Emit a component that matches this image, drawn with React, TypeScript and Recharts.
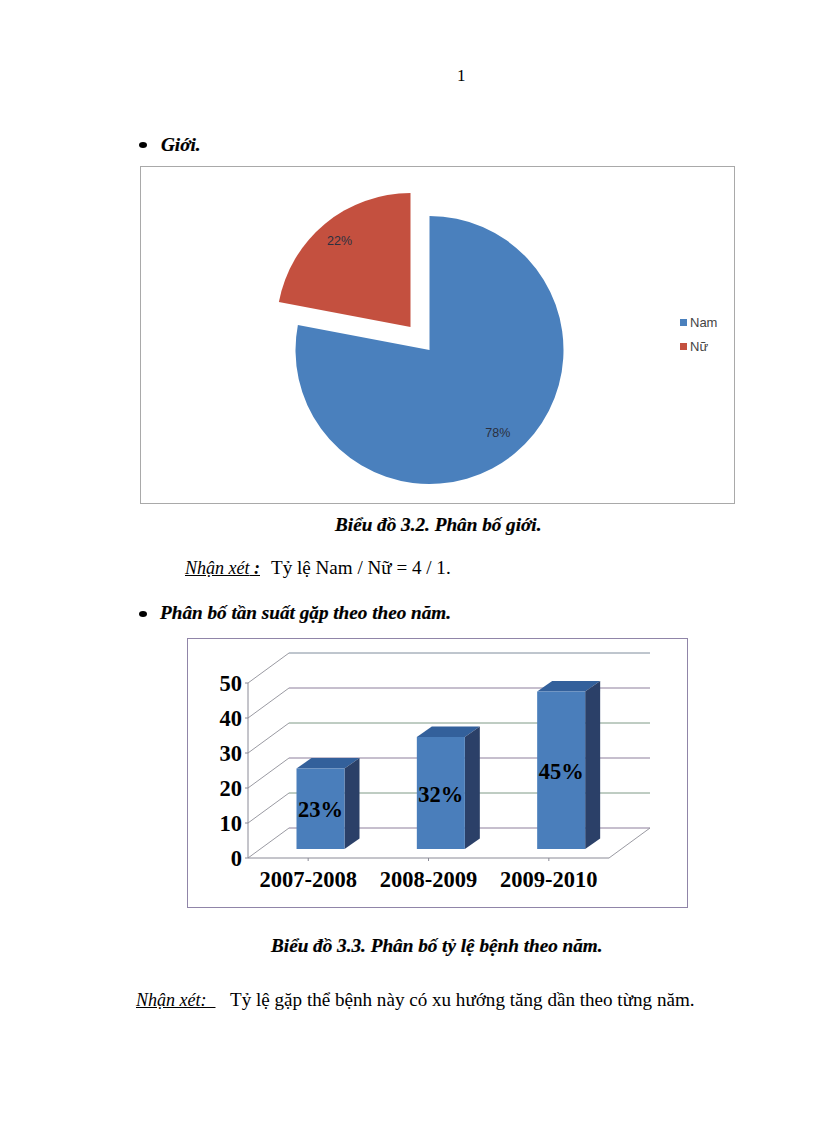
import React from "react";
import { PieChart, Pie, Cell, Legend, BarChart, Bar, XAxis, YAxis, CartesianGrid, LabelList } from "recharts";

const genderNames = ["Nam", "Nữ"];
const genderValues = [78, 22];
const genderColors = ["#4a80bd", "#c4503f"];

const yearCategories = ["2007-2008", "2008-2009", "2009-2010"];
const yearValues = [23, 32, 45];
const yTicks = [0, 10, 20, 30, 40, 50];

const namData = [{ name: genderNames[0], value: genderValues[0], fill: genderColors[0] }];
const nuData = [{ name: genderNames[1], value: genderValues[1], fill: genderColors[1] }];
const yearData = yearCategories.map((year, i) => ({ year, value: yearValues[i] }));

const total = genderValues[0] + genderValues[1];
const nuSweep = (genderValues[1] / total) * 360;

const serif = "'Liberation Serif', serif";
const sans = "'Liberation Sans', sans-serif";
const DX = 41;
const DY = 30;
const gridColors = ["#8d7f9c", "#7f9a86", "#8d7f9c", "#7f9a86", "#8d7f9c", "#7f8c9c"];

const RAD = Math.PI / 180;
const pieLabel = (ratio: number) => (p: any) => {
  const r = p.outerRadius * ratio;
  const x = p.cx + r * Math.cos(-p.midAngle * RAD);
  const y = p.cy + r * Math.sin(-p.midAngle * RAD);
  return (
    <text x={x} y={y} textAnchor="middle" dominantBaseline="central" fontSize={12.5} fontFamily={sans} fill="#2b3040">
      {`${p.value}%`}
    </text>
  );
};

const Bar3D = (p: any) => {
  const x = p.x + 12.5;
  const y = p.y - 9;
  const w = p.width;
  const h = p.height;
  const dx = 15;
  const dy = 10.5;
  return (
    <g>
      <polygon points={`${x},${y} ${x + dx},${y - dy} ${x + w + dx},${y - dy} ${x + w},${y}`} fill="#33609b" />
      <polygon points={`${x + w},${y} ${x + w + dx},${y - dy} ${x + w + dx},${y + h - dy} ${x + w},${y + h}`} fill="#2b4068" />
      <rect x={x} y={y} width={w} height={h} fill="#4a7ebb" />
    </g>
  );
};

const barLabel = (p: any) => (
  <text
    x={p.x + 12.5 + p.width / 2}
    y={p.y - 8 + p.height / 2}
    textAnchor="middle"
    dominantBaseline="central"
    fontSize={22.5}
    fontWeight="bold"
    fontFamily={serif}
    fill="#000"
    style={{ WebkitTextStroke: "0.3px #000" }}
  >
    {`${p.value}%`}
  </text>
);

const wallLine = (p: any) => {
  const i = Math.round((p.height + p.y - p.y1) / 35);
  const c = gridColors[i] ?? "#8d7f9c";
  return (
    <g key={p.key ?? p.y1}>
      <line x1={p.x1} y1={p.y1} x2={p.x1 + DX} y2={p.y1 - DY} stroke="#9a9aa2" strokeWidth={1} />
      <line x1={p.x1 + DX} y1={p.y1 - DY} x2={p.x2 + DX} y2={p.y1 - DY} stroke={c} strokeWidth={1} />
      {i === 0 ? <line x1={p.x2} y1={p.y1} x2={p.x2 + DX} y2={p.y1 - DY} stroke="#9a9aa2" strokeWidth={1} /> : null}
    </g>
  );
};

const PieLegend = (p: any) => (
  <div style={{ fontFamily: sans, fontSize: 13, color: "#444" }}>
    {(p.payload ?? []).map((e: any) => (
      <div key={e.value} style={{ display: "flex", alignItems: "center", height: 24 }}>
        <span style={{ width: 7, height: 7, background: e.color, marginRight: 3, display: "inline-block" }} />
        {e.value}
      </div>
    ))}
  </div>
);

const T = ({ x, y, children, style }: any) => (
  <div style={{ position: "absolute", left: x, top: y, whiteSpace: "nowrap", fontFamily: serif, lineHeight: "20px", color: "#000", ...style }}>
    {children}
  </div>
);
const heading = { fontWeight: "bold", fontStyle: "italic", fontSize: 19.2, WebkitTextStroke: "0.2px #000" };
const body = { fontSize: 19.1 };
const remark = { fontStyle: "italic", fontSize: 18, textDecoration: "underline" };
const Dot = ({ x, y }: any) => (
  <div style={{ position: "absolute", left: x, top: y, width: 8, height: 6, borderRadius: "50%", background: "#000" }} />
);
const axisTick = { fontFamily: serif, fontSize: 22.5, fontWeight: "bold", fill: "#000", style: { WebkitTextStroke: "0.3px #000" } };

export default function App() {
  return (
    <div style={{ position: "absolute", left: 0, top: 0, width: 816, height: 1123, background: "#fff", overflow: "hidden" }}>
      <T x={457} y={66} style={{ fontSize: 17 }}>1</T>

      <Dot x={139} y={142} />
      <T x={161} y={135} style={heading}>Giới.</T>

      <div style={{ position: "absolute", left: 140, top: 166, width: 593, height: 336, border: "1px solid #a9a9a9" }}>
        <PieChart width={593} height={336} margin={{ left: 0, right: 0, top: 0, bottom: 0 }}>
          <Pie
            data={namData}
            dataKey="value"
            nameKey="name"
            cx={288.5}
            cy={183}
            outerRadius={134}
            startAngle={90}
            endAngle={90 - (genderValues[0] / total) * 360}
            stroke="none"
            labelLine={false}
            label={pieLabel(0.8)}
            isAnimationActive={false}
          >
            <Cell fill={genderColors[0]} />
          </Pie>
          <Pie
            data={nuData}
            dataKey="value"
            nameKey="name"
            cx={269.5}
            cy={160}
            outerRadius={134}
            startAngle={90 + nuSweep}
            endAngle={90}
            stroke="none"
            labelLine={false}
            label={pieLabel(0.83)}
            isAnimationActive={false}
          >
            <Cell fill={genderColors[1]} />
          </Pie>
          <Legend
            layout="vertical"
            align="right"
            verticalAlign="top"
            wrapperStyle={{ left: 539, top: 143, width: 50, right: "auto" }}
            content={PieLegend}
          />
        </PieChart>
      </div>

      <T x={335} y={515} style={heading}>Biểu đồ 3.2. Phân bố giới.</T>
      <T x={185} y={558} style={remark}>Nhận xét<b> :</b></T>
      <T x={271} y={558} style={body}>Tỷ lệ Nam / Nữ = 4 / 1.</T>

      <Dot x={139} y={611} />
      <T x={160} y={603} style={heading}>Phân bố tần suất gặp theo theo năm.</T>

      <div style={{ position: "absolute", left: 187, top: 638, width: 499, height: 268, border: "1px solid #9085a8" }}>
        <BarChart
          width={499}
          height={268}
          data={yearData}
          margin={{ left: 0, right: 78, top: 44, bottom: 19 }}
          barSize={48}
          style={{ overflow: "visible" }}
        >
          <CartesianGrid vertical={false} horizontal={wallLine as any} syncWithTicks />
          <XAxis
            dataKey="year"
            height={30}
            tick={axisTick}
            axisLine={{ stroke: "#8a8a96" }}
            tickLine={{ stroke: "#8a8a96" }}
            tickSize={3}
            tickMargin={10}
            interval={0}
          />
          <YAxis
            domain={[0, 50]}
            ticks={yTicks}
            width={60}
            interval={0}
            tick={axisTick}
            axisLine={{ stroke: "#8a8a96" }}
            tickLine={{ stroke: "#8a8a96" }}
            tickSize={3}
            tickMargin={3}
          />
          <Bar dataKey="value" shape={Bar3D} isAnimationActive={false}>
            <LabelList dataKey="value" content={barLabel} />
          </Bar>
        </BarChart>
      </div>

      <T x={271} y={936} style={heading}>Biểu đồ 3.3. Phân bố tỷ lệ bệnh theo năm.</T>
      <T x={136} y={990} style={remark}>Nhận xét:&nbsp;&nbsp;</T>
      <T x={230} y={990} style={body}>Tỷ lệ gặp thể bệnh này có xu hướng tăng dần theo từng năm.</T>
    </div>
  );
}
